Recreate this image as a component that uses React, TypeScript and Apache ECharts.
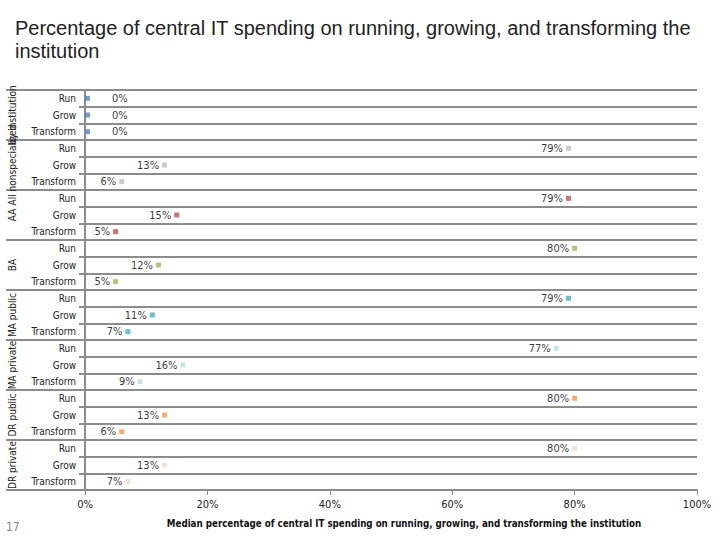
import { useEffect, useRef } from 'react'
import * as echarts from 'echarts'

// 分组与度量
const groups = ['by institution', 'All nonspecialized', 'AA', 'BA', 'MA public', 'MA private', 'DR public', 'DR private']
const measures = ['Run', 'Grow', 'Transform']
const groupColors = ['#4f81bd', '#bfbfbf', '#c0504d', '#9bbb59', '#4bacc6', '#b7dee8', '#f79646', '#f2d9c4']

// 各组中位数（%）
const runValues = [0.4, 79, 79, 80, 79, 77, 80, 80]
const growValues = [0.4, 13, 15, 12, 11, 16, 13, 13]
const transformValues = [0.4, 6, 5, 5, 7, 9, 6, 7]

const xMin = 0
const xMax = 100
const xStep = 20

const narrow = '"Liberation Sans Narrow", "DejaVu Sans Condensed", "DejaVu Sans", sans-serif'
const lineColor = '#8c8c8c'

export default function App() {
  const chartRef = useRef<HTMLDivElement>(null)

  useEffect(() => {
    if (!chartRef.current) return
    document.body.style.margin = '0'
    const chart = echarts.init(chartRef.current, undefined, { renderer: 'svg' })

    const rows = groups.flatMap(() => measures)

    const series = groups.map((g, gi) => {
      const vals = [runValues[gi], growValues[gi], transformValues[gi]]
      return {
        type: 'scatter',
        name: g,
        symbol: 'rect',
        symbolSize: 5,
        itemStyle: { color: groupColors[gi] },
        label: {
          show: true,
          position: 'left',
          distance: 3,
          fontFamily: narrow,
          fontSize: 11,
          color: '#000',
          formatter: (p: any) => Math.round(p.value[0]) + '%',
        },
        data: vals.map((v, mi) => ({
          value: [v, gi * 3 + mi],
          // 0% 标签放在右侧
          label: v < 1 ? { position: 'right', distance: 22 } : undefined,
        })),
      }
    })

    chart.setOption({
      animation: false,
      backgroundColor: '#ffffff',
      title: {
        text: 'Percentage of central IT spending on running, growing, and transforming the\ninstitution',
        left: 15,
        top: 16,
        padding: 0,
        textStyle: {
          fontFamily: '"Liberation Sans", Arial, sans-serif',
          fontSize: 20,
          fontWeight: 'normal',
          color: '#222',
          lineHeight: 23,
        },
      },
      grid: { left: 85, right: 23, top: 90, bottom: 50, outerBoundsMode: 'none' },
      xAxis: {
        type: 'value',
        min: xMin,
        max: xMax,
        interval: xStep,
        name: 'Median percentage of central IT spending on running, growing, and transforming the institution',
        nameLocation: 'middle',
        nameGap: 28,
        nameTextStyle: {
          fontFamily: narrow,
          fontSize: 9.7,
          fontWeight: 'bold',
          color: '#111',
          padding: [0, 0, 0, 26],
        },
        axisLine: { show: true, lineStyle: { color: lineColor, width: 2 } },
        axisTick: { show: true, length: 5, lineStyle: { color: lineColor, width: 1 } },
        splitLine: { show: false },
        axisLabel: {
          formatter: '{value}%',
          fontFamily: narrow,
          fontSize: 11,
          color: '#222',
          margin: 9,
        },
      },
      yAxis: [
        {
          type: 'category',
          data: rows,
          inverse: true,
          axisLine: { show: true, lineStyle: { color: lineColor, width: 2 } },
          axisTick: { show: true, length: 6, lineStyle: { color: lineColor, width: 2 } },
          splitLine: { show: true, lineStyle: { color: lineColor, width: 2 } },
          axisLabel: {
            interval: 0,
            fontFamily: narrow,
            fontSize: 10,
            color: '#222',
            margin: 9,
          },
        },
        {
          type: 'category',
          data: groups,
          inverse: true,
          position: 'left',
          axisLine: { show: false },
          axisTick: { show: true, length: 79, lineStyle: { color: lineColor, width: 2 } },
          splitLine: { show: false },
          axisLabel: {
            interval: 0,
            rotate: 90,
            fontFamily: narrow,
            fontSize: 10,
            color: '#222',
            margin: 68,
          },
        },
      ],
      graphic: [
        {
          type: 'text',
          left: 6,
          top: 521,
          style: { text: '17', fontFamily: narrow, fontSize: 12, fill: '#888' },
        },
      ],
      series,
    })

    const handleResize = () => chart.resize()
    window.addEventListener('resize', handleResize)
    return () => {
      window.removeEventListener('resize', handleResize)
      chart.dispose()
    }
  }, [])

  return <div ref={chartRef} style={{ width: 720, height: 540 }} />
}
